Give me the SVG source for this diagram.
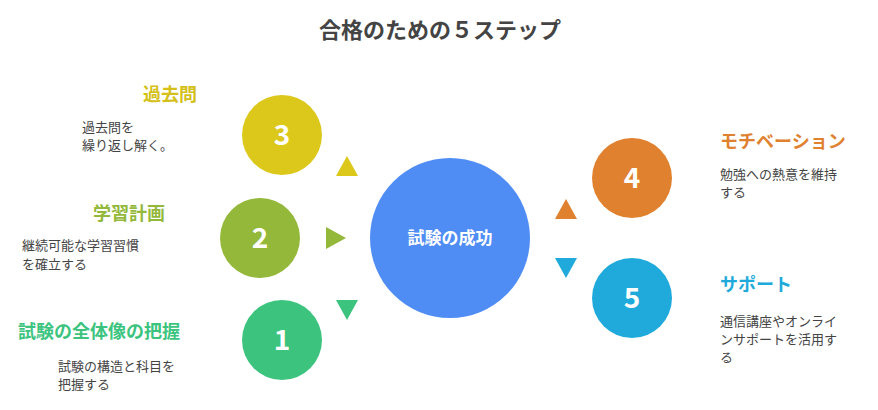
<svg xmlns="http://www.w3.org/2000/svg" width="878" height="410" viewBox="0 0 878 410">
<style>
text{font-family:"Noto Sans CJK JP","Noto Sans",sans-serif}
.t{font-size:22px;font-weight:bold;fill:#444}
.n{font-size:28px;font-weight:bold;fill:#fff;text-anchor:middle}
.h{font-size:18px;font-weight:bold}
.d{font-size:13px;fill:#444}
</style>
<rect width="878" height="410" fill="#fff"/>
<text class="t" x="440" y="38" text-anchor="middle">合格のための５ステップ</text>
<g id="center"><circle cx="450" cy="238" r="80" fill="#4F8DF5"/><text x="450" y="244" font-size="17" font-weight="bold" fill="#fff" text-anchor="middle">試験の成功</text></g>
<g id="n3"><circle cx="282" cy="135" r="40" fill="#DCC81A"/><text class="n" x="282" y="145">3</text>
<text class="h" x="197" y="101" text-anchor="end" fill="#D4C018">過去問</text>
<text class="d" x="82" y="132">過去問を</text><text class="d" x="82" y="150">繰り返し解く。</text></g>
<g id="n2"><circle cx="260" cy="238" r="40" fill="#93B83A"/><text class="n" x="260" y="248">2</text>
<text class="h" x="165" y="220" text-anchor="end" fill="#93B83A">学習計画</text>
<text class="d" x="22" y="250">継続可能な学習習慣</text><text class="d" x="22" y="269">を確立する</text></g>
<g id="n1"><circle cx="282" cy="340" r="40" fill="#3CC47F"/><text class="n" x="282" y="350">1</text>
<text class="h" x="18" y="338" fill="#3CC47F">試験の全体像の把握</text>
<text class="d" x="58" y="371">試験の構造と科目を</text><text class="d" x="58" y="389">把握する</text></g>
<g id="n4"><circle cx="632" cy="178" r="40" fill="#E0812F"/><text class="n" x="632" y="188">4</text>
<text class="h" x="720" y="148" fill="#E0812F">モチベーション</text>
<text class="d" x="720" y="179">勉強への熱意を維持</text><text class="d" x="720" y="197">する</text></g>
<g id="n5"><circle cx="632" cy="298" r="40" fill="#20AADB"/><text class="n" x="632" y="308">5</text>
<text class="h" x="720" y="291" fill="#20AADB">サポート</text>
<text class="d" x="720" y="326">通信講座やオンライ</text><text class="d" x="720" y="344">ンサポートを活用す</text><text class="d" x="720" y="362">る</text></g>
<g id="connectors">
<polygon points="336,176 358,176 347,156" fill="#DCC81A"/>
<polygon points="326,227 326,249 346,238" fill="#93B83A"/>
<polygon points="336,300 358,300 347,320" fill="#3CC47F"/>
<polygon points="555,219 577,219 566,199" fill="#E0812F"/>
<polygon points="555,258 577,258 566,278" fill="#20AADB"/>
</g>
</svg>
